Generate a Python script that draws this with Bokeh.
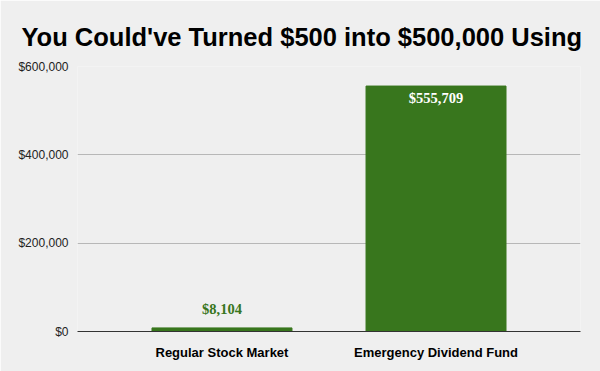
from bokeh.plotting import figure
from bokeh.models import FactorRange, Range1d, NumeralTickFormatter, FixedTicker, ColumnDataSource
from bokeh.core.properties import value
from bokeh.embed import file_html
from bokeh.resources import INLINE

categories = ["Regular Stock Market", "Emergency Dividend Fund"]
values = [8104, 555709]
value_labels = ["$8,104", "$555,709"]
y_ticks = [0, 200000, 400000, 600000]
title_text = "You Could've Turned $500 into $500,000 Using"

BG = "#efefef"
GREEN = "#38761d"

p = figure(width=600, height=371, output_backend="svg", toolbar_location=None,
           x_range=FactorRange(*categories, range_padding=0.175, range_padding_units="absolute"),
           y_range=Range1d(0, 600000),
           min_border_left=77, min_border_right=20, min_border_top=66, min_border_bottom=40,
           background_fill_color=BG, border_fill_color=BG, outline_line_color=None)

p.title.text = title_text
p.title.align = "left"
p.title.offset = -56
p.title.standoff = 31
p.title.text_font = "Liberation Sans"
p.title.text_font_style = "bold"
p.title.text_font_size = "25.5px"
p.title.text_color = "#000000"

p.vbar(x=categories, top=values, width=0.654, color=GREEN)

src1 = ColumnDataSource(dict(x=categories[:1], y=values[:1], t=value_labels[:1]))
src2 = ColumnDataSource(dict(x=categories[1:], y=values[1:], t=value_labels[1:]))
p.text(x="x", y="y", text="t", source=src1, text_align="center", text_baseline="middle",
       y_offset=-19, text_color=GREEN, text_font=value("Liberation Serif"),
       text_font_style="bold", text_font_size="14.5px")
p.text(x="x", y="y", text="t", source=src2, text_align="center", text_baseline="middle",
       y_offset=12, text_color="#ffffff", text_font=value("Liberation Serif"),
       text_font_style="bold", text_font_size="14.5px")

p.yaxis.ticker = FixedTicker(ticks=y_ticks)
p.yaxis.formatter = NumeralTickFormatter(format="$0,0")
p.yaxis.axis_line_color = None
p.yaxis.major_tick_line_color = None
p.yaxis.minor_tick_line_color = None
p.yaxis.major_label_standoff = 3
p.yaxis.major_label_text_font = "Liberation Sans"
p.yaxis.major_label_text_font_size = "12px"
p.yaxis.major_label_text_color = "#222222"

p.xaxis.axis_line_color = "#333333"
p.xaxis.major_tick_line_color = None
p.xaxis.minor_tick_line_color = None
p.xaxis.major_label_standoff = 7
p.xaxis.major_label_text_font = "Liberation Sans"
p.xaxis.major_label_text_font_style = "bold"
p.xaxis.major_label_text_font_size = "13px"
p.xaxis.major_label_text_color = "#000000"

p.xgrid.grid_line_color = None
p.ygrid.ticker = FixedTicker(ticks=y_ticks)
p.ygrid.grid_line_color = "#b7b7b7"

open("out.html", "w").write(file_html(p, INLINE))
